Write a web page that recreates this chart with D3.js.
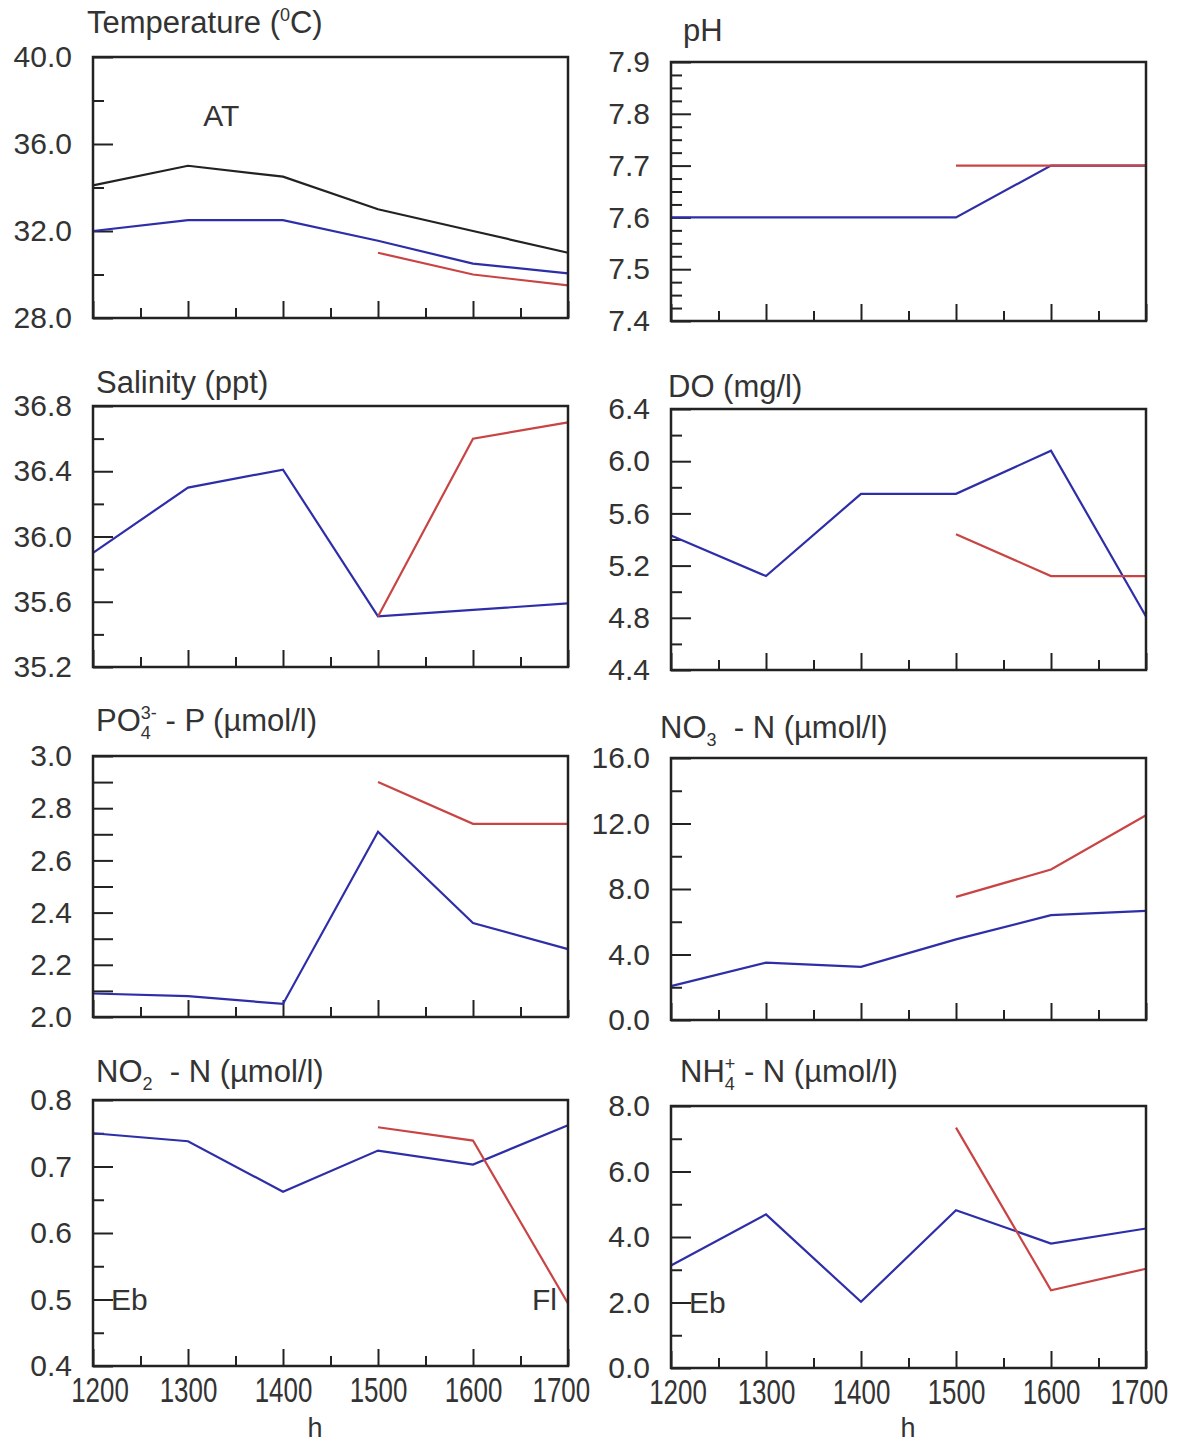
<!DOCTYPE html>
<html>
<head>
<meta charset="utf-8">
<script src="https://cdn.jsdelivr.net/npm/d3@7"></script>
<style>
  body { margin: 0; background: #fff; }
  svg text { font-family: "Liberation Sans", Arial, sans-serif; fill: #333; }
</style>
</head>
<body>
<svg id="chart" width="1184" height="1446"></svg>
<script>
// heures d'echantillonnage
const hours = [1200, 1300, 1400, 1500, 1600, 1700];
const lateHours = [1500, 1600, 1700];
const hourTicks = [1200, 1300, 1400, 1500, 1600, 1700];
const hourMinor = [1250, 1350, 1450, 1550, 1650];

// valeurs
const tempAT = [34.1, 35.0, 34.5, 33.0, 32.0, 31.0];
const tempA = [32.0, 32.5, 32.5, 31.55, 30.5, 30.05];
const tempB = [31.0, 30.0, 29.5];
const phA = [7.6, 7.6, 7.6, 7.6, 7.7, 7.7];
const phB = [7.7, 7.7, 7.7];
const salA = [35.9, 36.3, 36.41, 35.51, 35.55, 35.59];
const salB = [35.51, 36.6, 36.7];
const doA = [5.43, 5.12, 5.75, 5.75, 6.08, 4.81];
const doB = [5.44, 5.12, 5.12];
const po4A = [2.09, 2.08, 2.05, 2.71, 2.36, 2.26];
const po4B = [2.9, 2.74, 2.74];
const no3A = [2.07, 3.5, 3.25, 4.92, 6.4, 6.67];
const no3B = [7.52, 9.19, 12.5];
const no2A = [0.75, 0.738, 0.662, 0.724, 0.703, 0.762];
const no2B = [0.759, 0.739, 0.494];
const nh4A = [3.13, 4.69, 2.02, 4.82, 3.8, 4.26];
const nh4B = [7.34, 2.375, 3.03];

// graduations
const tempTicks = [28, 32, 36, 40], tempMinor = [30, 34, 38];
const phTicks = [7.4, 7.5, 7.6, 7.7, 7.8, 7.9];
const phMinor = d3.range(7.4, 7.9, 0.025).filter((v, i) => i % 4 !== 0);
const salTicks = [35.2, 35.6, 36.0, 36.4, 36.8], salMinor = [35.4, 35.8, 36.2, 36.6];
const doTicks = [4.4, 4.8, 5.2, 5.6, 6.0, 6.4], doMinor = [4.6, 5.0, 5.4, 5.8, 6.2];
const po4Ticks = [2.0, 2.2, 2.4, 2.6, 2.8, 3.0], po4Minor = [2.1, 2.3, 2.5, 2.7, 2.9];
const no3Ticks = [0, 4, 8, 12, 16], no3Minor = [2, 6, 10, 14];
const no2Ticks = [0.4, 0.5, 0.6, 0.7, 0.8], no2Minor = [0.45, 0.55, 0.65, 0.75];
const nh4Ticks = [0, 2, 4, 6, 8], nh4Minor = [1, 3, 5, 7];

const BLUE = "#2e2ea8", RED = "#c94444", BLACK = "#222";

const cols = [[93, 568], [671, 1146]];

const panels = [
  { col: 0, top: 57, bottom: 318, domain: [28, 40], ticks: tempTicks, minor: tempMinor, fmt: ".1f",
    title: [["Temperature ("], ["0", "sup"], ["C)"]], tx: 87, ty: 33,
    series: [[hours, tempAT, BLACK], [hours, tempA, BLUE], [lateHours, tempB, RED]],
    notes: [{ t: "AT", x: 1316, y: 37.33 }] },
  { col: 1, top: 62, bottom: 321, domain: [7.4, 7.9], ticks: phTicks, minor: phMinor, fmt: ".1f",
    title: [["pH"]], tx: 683, ty: 41,
    series: [[hours, phA, BLUE], [lateHours, phB, RED]] },
  { col: 0, top: 406, bottom: 667, domain: [35.2, 36.8], ticks: salTicks, minor: salMinor, fmt: ".1f",
    title: [["Salinity (ppt)"]], tx: 96, ty: 393,
    series: [[hours, salA, BLUE], [lateHours, salB, RED]] },
  { col: 1, top: 409, bottom: 670, domain: [4.4, 6.4], ticks: doTicks, minor: doMinor, fmt: ".1f",
    title: [["DO (mg/l)"]], tx: 668, ty: 397,
    series: [[hours, doA, BLUE], [lateHours, doB, RED]] },
  { col: 0, top: 756, bottom: 1017, domain: [2.0, 3.0], ticks: po4Ticks, minor: po4Minor, fmt: ".1f", minorLong: true,
    title: [["PO"], ["4", "sub"], ["3-", "supback"], [" - P (µmol/l)"]], tx: 96, ty: 731,
    series: [[hours, po4A, BLUE], [lateHours, po4B, RED]] },
  { col: 1, top: 758, bottom: 1020, domain: [0, 16], ticks: no3Ticks, minor: no3Minor, fmt: ".1f",
    title: [["NO"], ["3", "sub"], ["\u00a0\u00a0- N (µmol/l)"]], tx: 660, ty: 738,
    series: [[hours, no3A, BLUE], [lateHours, no3B, RED]] },
  { col: 0, top: 1100, bottom: 1366, domain: [0.4, 0.8], ticks: no2Ticks, minor: no2Minor, fmt: ".1f", xlabels: true,
    title: [["NO"], ["2", "sub"], ["\u00a0\u00a0- N (µmol/l)"]], tx: 96, ty: 1082,
    series: [[hours, no2A, BLUE], [lateHours, no2B, RED]],
    notes: [{ t: "Eb", x: 1219, y: 0.5 }, { t: "Fl", x: 1662, y: 0.5 }], hx: 315 },
  { col: 1, top: 1106, bottom: 1368, domain: [0, 8], ticks: nh4Ticks, minor: nh4Minor, fmt: ".1f", xlabels: true,
    title: [["NH"], ["4", "sub"], ["+", "supback"], [" - N (µmol/l)"]], tx: 680, ty: 1082,
    series: [[hours, nh4A, BLUE], [lateHours, nh4B, RED]],
    notes: [{ t: "Eb", x: 1219, y: 2.0 }], hx: 908 }
];

const svg = d3.select("#chart");

panels.forEach(p => {
  const [x0, x1] = cols[p.col];
  const x = d3.scaleLinear().domain([1200, 1700]).range([x0, x1]);
  const y = d3.scaleLinear().domain(p.domain).range([p.bottom, p.top]);

  const g = svg.append("g");

  // titre avec indices / exposants
  const title = g.append("text")
    .attr("x", p.tx).attr("y", p.ty)
    .style("font-size", "31px");
  let shift = 0;
  p.title.forEach(([t, kind]) => {
    const ts = title.append("tspan").text(t);
    let target = 0;
    if (kind === "sub") { target = 8; ts.style("font-size", "18px"); }
    if (kind === "sup" || kind === "supback") { target = -12; ts.style("font-size", "18px"); }
    if (kind === "supback") ts.attr("dx", -10);
    ts.attr("dy", target - shift);
    shift = target;
  });

  // axe y : graduations vers l'interieur
  const yMajor = g.append("g")
    .attr("transform", `translate(${x0},0)`)
    .call(d3.axisLeft(y).tickValues(p.ticks).tickFormat(d3.format(p.fmt))
      .tickSizeInner(-20).tickSizeOuter(0).tickPadding(21));
  yMajor.select(".domain").remove();
  yMajor.selectAll("line").attr("stroke", BLACK).attr("stroke-width", 2);
  yMajor.selectAll("text").style("font-size", "30px").attr("fill", "#333");

  const yMinor = g.append("g")
    .attr("transform", `translate(${x0},0)`)
    .call(d3.axisLeft(y).tickValues(p.minor).tickFormat("")
      .tickSizeInner(p.minorLong ? -20 : -11).tickSizeOuter(0));
  yMinor.select(".domain").remove();
  yMinor.selectAll("line").attr("stroke", BLACK).attr("stroke-width", 2);

  // axe x
  const xMajor = g.append("g")
    .attr("transform", `translate(0,${p.bottom})`)
    .call(d3.axisBottom(x).tickValues(hourTicks)
      .tickFormat(p.xlabels ? d3.format("d") : "")
      .tickSizeInner(-17).tickSizeOuter(0).tickPadding(10));
  xMajor.select(".domain").remove();
  xMajor.selectAll("line").attr("stroke", BLACK).attr("stroke-width", 2);
  xMajor.selectAll("text")
    .style("font-size", "36px")
    .attr("fill", "#333")
    .attr("dx", (d, i, n) => i === 0 ? 9 : (i === n.length - 1 ? -10 : 0))
    .attr("transform", "scale(0.72,1)");

  const xMinor = g.append("g")
    .attr("transform", `translate(0,${p.bottom})`)
    .call(d3.axisBottom(x).tickValues(hourMinor).tickFormat("")
      .tickSizeInner(-10).tickSizeOuter(0));
  xMinor.select(".domain").remove();
  xMinor.selectAll("line").attr("stroke", BLACK).attr("stroke-width", 2);

  if (p.xlabels) {
    g.append("text")
      .attr("x", p.hx).attr("y", 1437)
      .attr("text-anchor", "middle")
      .style("font-size", "27px")
      .text("h");
  }

  // courbes
  const line = d3.line().x(d => x(d[0])).y(d => y(d[1]));
  p.series.forEach(([xs, ys, color]) => {
    g.append("path")
      .datum(d3.zip(xs, ys))
      .attr("fill", "none")
      .attr("stroke", color)
      .attr("stroke-width", 2.2)
      .attr("d", line);
  });

  (p.notes || []).forEach(n => {
    g.append("text")
      .attr("x", x(n.x)).attr("y", y(n.y))
      .attr("dy", "0.36em")
      .style("font-size", "30px")
      .text(n.t);
  });

  // cadre
  g.append("rect")
    .attr("x", x0).attr("y", p.top)
    .attr("width", x1 - x0).attr("height", p.bottom - p.top)
    .attr("fill", "none")
    .attr("stroke", BLACK)
    .attr("stroke-width", 2.5);
});
</script>
</body>
</html>
